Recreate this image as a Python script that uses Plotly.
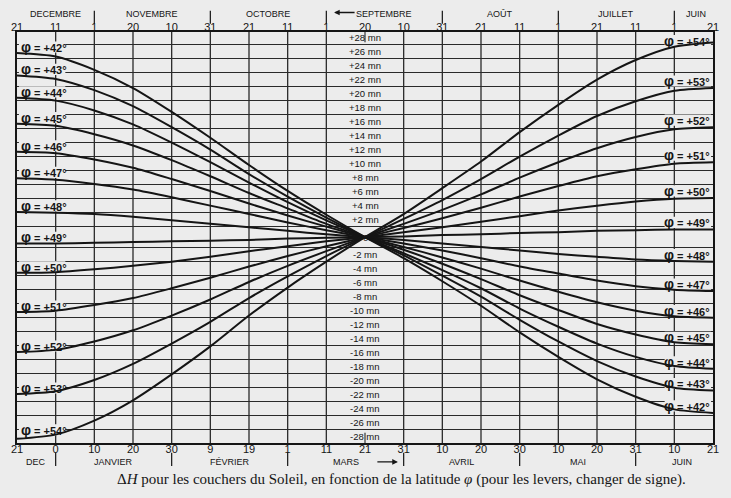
import plotly.graph_objects as go

# x positions: one step per tick, roughly 10 days, from 21 Dec (left) to 21 Jun (right)
steps = list(range(19))
bottom_days = ["21", "0", "10", "20", "30", "9", "19", "1", "11", "21",
               "31", "10", "20", "30", "10", "20", "31", "10", "21"]
top_days = ["21", "11", "1", "20", "10", "31", "21", "11", "1", "20",
            "10", "31", "21", "11", "1", "21", "11", "1", "21"]

# month names (label, step position) and month separators
top_months = [("DECEMBRE", 1.0), ("NOVEMBRE", 3.5), ("OCTOBRE", 6.5), ("SEPTEMBRE", 9.5),
              ("AOÛT", 12.5), ("JUILLET", 15.5), ("JUIN", 17.55)]
top_separators = [2, 5, 8, 11, 14, 17]
bottom_months = [("DEC", 0.5), ("JANVIER", 2.5), ("FÉVRIER", 5.5), ("MARS", 8.5),
                 ("AVRIL", 11.5), ("MAI", 14.5), ("JUIN", 17.2)]
bottom_separators = [1, 4, 7, 10, 13, 16]

# minute labels written down the centre column
minute_labels = [28, 26, 24, 22, 20, 18, 16, 14, 12, 10, 8, 6, 4, 2, 0,
                 -2, -4, -6, -8, -10, -12, -14, -16, -18, -20, -22, -24, -26, -28]

# Delta H (minutes) at each step
latitudes = [42, 43, 44, 45, 46, 47, 48, 49, 50, 51, 52, 53, 54]
dh_42 = [26.3, 25.8, 23.9, 21.3, 17.9, 14.2, 10.3, 6.6, 3.2, 0.0, -3.0, -6.3, -9.8, -13.6, -17.1, -20.3, -22.8, -24.6, -25.1]
dh_43 = [23.1, 22.6, 21.0, 18.7, 15.7, 12.5, 9.0, 5.8, 2.8, 0.0, -2.6, -5.5, -8.5, -11.8, -14.9, -17.7, -19.9, -21.5, -21.9]
dh_44 = [19.9, 19.5, 18.1, 16.1, 13.5, 10.7, 7.8, 5.0, 2.4, 0.0, -2.3, -4.7, -7.3, -10.2, -12.8, -15.2, -17.1, -18.4, -18.8]
dh_45 = [16.2, 15.9, 14.7, 13.1, 11.0, 8.7, 6.3, 4.1, 1.9, 0.0, -1.8, -3.8, -6.0, -8.3, -10.4, -12.4, -13.9, -15.0, -15.3]
dh_46 = [12.2, 12.0, 11.1, 9.9, 8.3, 6.6, 4.8, 3.1, 1.5, 0.0, -1.4, -2.9, -4.5, -6.2, -7.8, -9.3, -10.5, -11.3, -11.5]
dh_47 = [8.4, 8.2, 7.6, 6.8, 5.7, 4.5, 3.3, 2.1, 1.0, 0.0, -0.9, -1.9, -3.0, -4.2, -5.2, -6.2, -7.0, -7.5, -7.7]
dh_48 = [3.6, 3.5, 3.3, 2.9, 2.4, 1.9, 1.4, 0.9, 0.4, 0.0, -0.4, -0.9, -1.4, -1.9, -2.4, -2.8, -3.2, -3.4, -3.5]
dh_49 = [-0.9, -0.9, -0.8, -0.7, -0.6, -0.5, -0.4, -0.2, -0.1, 0.0, 0.1, 0.3, 0.4, 0.6, 0.7, 0.9, 1.0, 1.1, 1.1]
dh_50 = [-5.1, -5.0, -4.6, -4.1, -3.5, -2.8, -2.0, -1.3, -0.6, 0.0, 0.7, 1.4, 2.2, 3.0, 3.8, 4.5, 5.1, 5.5, 5.6]
dh_51 = [-10.7, -10.5, -9.7, -8.7, -7.3, -5.8, -4.2, -2.7, -1.3, 0.0, 1.3, 2.7, 4.2, 5.8, 7.3, 8.7, 9.7, 10.5, 10.7]
dh_52 = [-16.4, -16.1, -14.9, -13.3, -11.2, -8.9, -6.4, -4.1, -2.0, 0.0, 1.9, 3.9, 6.1, 8.5, 10.7, 12.7, 14.3, 15.4, 15.7]
dh_53 = [-22.4, -22.0, -20.4, -18.1, -15.2, -12.1, -8.7, -5.6, -2.7, 0.0, 2.6, 5.3, 8.3, 11.5, 14.5, 17.3, 19.4, 20.9, 21.3]
dh_54 = [-28.8, -28.2, -26.2, -23.3, -19.6, -15.6, -11.2, -7.2, -3.5, 0.0, 3.3, 7.0, 10.8, 15.0, 18.9, 22.5, 25.3, 27.2, 27.8]

curves = dict(zip(latitudes, [dh_42, dh_43, dh_44, dh_45, dh_46, dh_47, dh_48,
                              dh_49, dh_50, dh_51, dh_52, dh_53, dh_54]))

BG = "#ececec"
INK = "#151515"
SANS = "Liberation Sans, Arial, sans-serif"
SERIF = "Liberation Serif, DejaVu Serif, serif"

fig = go.Figure()

# vertical grid (no line in the centre column where the minutes are written)
for i in steps:
    if i in (0, 9, 18):
        continue
    fig.add_shape(type="line", x0=i, x1=i, y0=0, y1=1, xref="x", yref="paper",
                  line=dict(color="#2a2a2a", width=1.3), layer="between")

# little ticks at the centre top and bottom
fig.add_shape(type="line", x0=9, x1=9, y0=1, y1=0.975, xref="x", yref="paper",
              line=dict(color=INK, width=1), layer="above")
fig.add_shape(type="line", x0=9, x1=9, y0=0, y1=0.025, xref="x", yref="paper",
              line=dict(color=INK, width=1), layer="above")

label_font = dict(family=SANS, size=11, color=INK)

for lat, vals in curves.items():
    fig.add_trace(go.Scatter(
        x=steps, y=vals, mode="lines",
        line=dict(color=INK, width=2, shape="spline", smoothing=0.7),
        showlegend=False, hoverinfo="skip",
    ))
    text = f'<b><span style="font-size:14px">φ</span> = +{lat}°</b>'

    # left label, sitting on the start of the curve
    left_shift = 9 if lat == 54 else 6
    fig.add_shape(type="rect", x0=0.05, x1=1.25,
                  y0=vals[0] + left_shift / 7 - 0.8, y1=vals[0] + left_shift / 7 + 0.8,
                  xref="x", yref="y", fillcolor=BG, line=dict(width=0), layer="between")
    fig.add_annotation(x=0, y=vals[0], text=text, showarrow=False, xanchor="left",
                       xshift=2, yshift=left_shift, font=label_font)

    # right label, at the end of the curve
    right_shift = 2 if lat == 54 else 7
    fig.add_shape(type="rect", x0=16.75, x1=17.95,
                  y0=vals[-1] + right_shift / 7 - 0.8, y1=vals[-1] + right_shift / 7 + 0.8,
                  xref="x", yref="y", fillcolor=BG, line=dict(width=0), layer="between")
    fig.add_annotation(x=18, y=vals[-1], text=text, showarrow=False, xanchor="right",
                       xshift=-1, yshift=right_shift, font=label_font)

# dummy trace so the top axis is drawn
fig.add_trace(go.Scatter(x=[0, 18], y=[0, 0], xaxis="x2", mode="lines",
                         line=dict(width=0), showlegend=False, hoverinfo="skip"))

# minutes written down the middle
for m in minute_labels:
    if m == 0:
        txt, pos = "0", 0
    else:
        txt = f"+{m} mn" if m > 0 else f"-{abs(m)} mn"
        pos = m + (0.5 if m > 0 else -0.5)
    fig.add_annotation(x=9, y=pos, text=txt, showarrow=False,
                       font=dict(family=SANS, size=9.5, color=INK))

# month names and separators
for name, pos in top_months:
    fig.add_annotation(x=pos, y=1.0438, xref="x", yref="paper", yanchor="middle",
                       text=name, showarrow=False, font=dict(family=SANS, size=9, color=INK))
for pos in top_separators:
    fig.add_shape(type="line", x0=pos, x1=pos, y0=1.02, y1=1.052, xref="x", yref="paper",
                  line=dict(color=INK, width=1.2))
for name, pos in bottom_months:
    fig.add_annotation(x=pos, y=-0.046, xref="x", yref="paper", yanchor="middle",
                       text=name, showarrow=False, font=dict(family=SANS, size=9, color=INK))
for pos in bottom_separators:
    fig.add_shape(type="line", x0=pos, x1=pos, y0=-0.024, y1=-0.056, xref="x", yref="paper",
                  line=dict(color=INK, width=1.2))

# arrows: autumn reads right to left on top, spring left to right below
fig.add_annotation(x=8.2, y=1.0475, xref="x", yref="paper", text="", showarrow=True,
                   ax=22, ay=0, arrowhead=2, arrowsize=0.8, arrowwidth=1.4, arrowcolor=INK)
fig.add_annotation(x=9.85, y=-0.046, xref="x", yref="paper", text="", showarrow=True,
                   ax=-22, ay=0, arrowhead=2, arrowsize=0.8, arrowwidth=1.4, arrowcolor=INK)

# caption
fig.add_annotation(
    x=0.552, y=-0.09, xref="paper", yref="paper", yanchor="middle", showarrow=False,
    text="Δ<i>H</i> pour les couchers du Soleil, en fonction de la latitude <i>φ</i> "
         "(pour les levers, changer de signe).",
    font=dict(family=SERIF, size=15, color=INK),
)

grid_y = [s * (2 * k + 1.5) for k in range(14) for s in (1, -1)]

fig.update_layout(
    width=731, height=498,
    margin=dict(l=17, r=18, t=32, b=55),
    paper_bgcolor=BG, plot_bgcolor=BG,
    xaxis=dict(range=[0, 18], tickvals=steps, ticktext=bottom_days, showgrid=False,
               zeroline=False, showline=True, mirror=True, linecolor=INK, linewidth=2,
               ticks="", ticklabelstandoff=-5,
               tickfont=dict(family=SANS, size=11, color=INK)),
    xaxis2=dict(range=[0, 18], overlaying="x", side="top", tickvals=steps, ticktext=top_days,
                showgrid=False, zeroline=False, showline=False, ticks="", ticklabelstandoff=-2,
                tickfont=dict(family=SANS, size=11, color=INK)),
    yaxis=dict(range=[-29.4, 29.3], tickvals=grid_y, showticklabels=False, showgrid=True,
               gridcolor="#2a2a2a", gridwidth=1.2, zeroline=False, showline=True,
               mirror=True, linecolor=INK, linewidth=1.5, ticks=""),
)

# drop the page's default body margin so the chart sits at the window corner
fig.write_html("out.html", config={"displayModeBar": False},
               post_script="document.body.style.margin='0';")
